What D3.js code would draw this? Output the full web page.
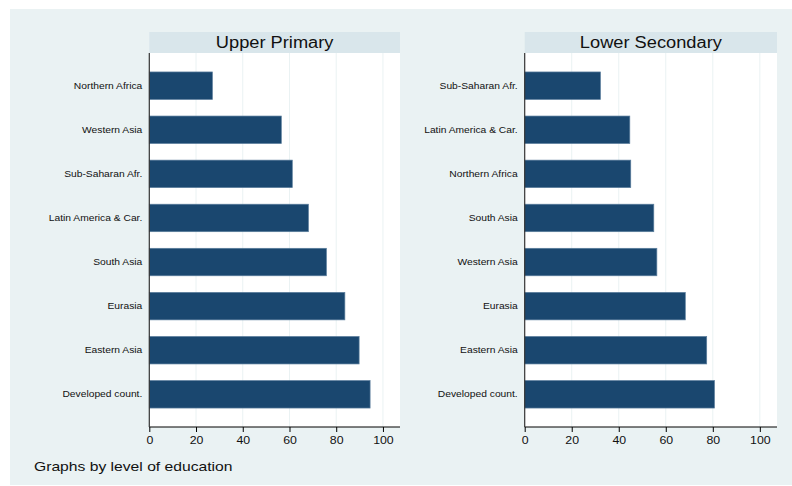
<!DOCTYPE html>
<html>
<head>
<meta charset="utf-8">
<script src="https://cdn.jsdelivr.net/npm/d3@7"></script>
<style>
  html, body { margin: 0; padding: 0; background: #ffffff; }
  svg text { font-family: "Liberation Sans", Arial, sans-serif; fill: #111; }
</style>
</head>
<body>
<svg id="chart"></svg>
<script>
// panel titles
const panelTitles = ['Upper Primary', 'Lower Secondary'];

// categories per panel, top to bottom
const upperCats = ['Northern Africa', 'Western Asia', 'Sub-Saharan Afr.', 'Latin America & Car.',
    'South Asia', 'Eurasia', 'Eastern Asia', 'Developed count.'];
const upperVals = [27.0, 56.5, 61.2, 68.1, 75.8, 83.7, 89.8, 94.5];

const lowerCats = ['Sub-Saharan Afr.', 'Latin America & Car.', 'Northern Africa', 'South Asia',
    'Western Asia', 'Eurasia', 'Eastern Asia', 'Developed count.'];
const lowerVals = [32.2, 44.7, 45.1, 54.9, 56.2, 68.3, 77.4, 80.7];

const xTicks = [0, 20, 40, 60, 80, 100];
const caption = 'Graphs by level of education';

const W = 792, H = 486;
const svg = d3.select('#chart').attr('width', W).attr('height', H);

// outer (graph region) background
svg.append('rect')
    .attr('x', 10).attr('y', 9)
    .attr('width', W - 10).attr('height', 476)
    .attr('fill', '#eaf2f3');

const plotTop = 53, plotBot = 427, stripTop = 32;
const panels = [
    { x0: 149.3, x1: 400, title: panelTitles[0], cats: upperCats, vals: upperVals },
    { x0: 524.7, x1: 777, title: panelTitles[1], cats: lowerCats, vals: lowerVals }
];

// stretch text a bit wider, like the original renderer
function widen(sel, k) {
    sel.each(function () {
        const len = this.getComputedTextLength();
        d3.select(this).attr('textLength', len * k).attr('lengthAdjust', 'spacingAndGlyphs');
    });
}

panels.forEach((p) => {
    const x = d3.scaleLinear().domain([0, 107.3]).range([p.x0, p.x1]);
    const y = d3.scaleBand().domain(p.cats).range([plotTop, plotBot])
        .paddingInner(0.377).paddingOuter(0.43);

    // title strip
    svg.append('rect')
        .attr('x', p.x0).attr('y', stripTop)
        .attr('width', p.x1 - p.x0).attr('height', plotTop - stripTop)
        .attr('fill', '#d9e6eb');
    svg.append('text')
        .attr('x', (p.x0 + p.x1) / 2).attr('y', 48)
        .attr('text-anchor', 'middle')
        .style('font-size', '16px')
        .text(p.title)
        .call(widen, 1.14);

    // plot area
    svg.append('rect')
        .attr('x', p.x0).attr('y', plotTop)
        .attr('width', p.x1 - p.x0).attr('height', plotBot - plotTop)
        .attr('fill', '#ffffff');

    // gridlines
    svg.append('g')
        .selectAll('line')
        .data(xTicks.filter((t) => t > 0))
        .join('line')
        .attr('x1', (d) => x(d)).attr('x2', (d) => x(d))
        .attr('y1', plotTop).attr('y2', plotBot)
        .attr('stroke', '#eaf2f3')
        .attr('stroke-width', 1);

    // bars
    svg.append('g')
        .selectAll('rect')
        .data(p.cats.map((c, i) => ({ cat: c, val: p.vals[i] })))
        .join('rect')
        .attr('x', x(0))
        .attr('y', (d) => y(d.cat))
        .attr('width', (d) => x(d.val) - x(0))
        .attr('height', y.bandwidth())
        .attr('fill', '#1a476f')
        .attr('stroke', '#5a7d9c')
        .attr('stroke-width', 0.7);

    // x axis
    const xAxis = svg.append('g')
        .attr('transform', `translate(0, ${plotBot})`)
        .call(d3.axisBottom(x).tickValues(xTicks).tickSize(5).tickPadding(4).tickSizeOuter(0));
    xAxis.select('.domain').attr('stroke', '#000').attr('d', `M${p.x0},0H${p.x1}`);
    xAxis.selectAll('.tick line').attr('stroke', '#000');
    xAxis.selectAll('text')
        .style('font-size', '11px')
        .style('font-family', '"Liberation Sans", Arial, sans-serif')
        .attr('fill', '#111')
        .call(widen, 1.12);

    // y axis
    const yAxis = svg.append('g')
        .attr('transform', `translate(${p.x0}, 0)`)
        .call(d3.axisLeft(y).tickSize(0).tickPadding(7));
    yAxis.select('.domain').attr('stroke', '#333').attr('stroke-width', 1.2)
        .attr('d', `M0,${plotTop}V${plotBot}`);
    yAxis.selectAll('text')
        .style('font-size', '9.5px')
        .style('font-family', '"Liberation Sans", Arial, sans-serif')
        .attr('fill', '#111')
        .call(widen, 1.08);
});

// note
svg.append('text')
    .attr('x', 34).attr('y', 471)
    .style('font-size', '13.5px')
    .text(caption)
    .call(widen, 1.16);
</script>
</body>
</html>
